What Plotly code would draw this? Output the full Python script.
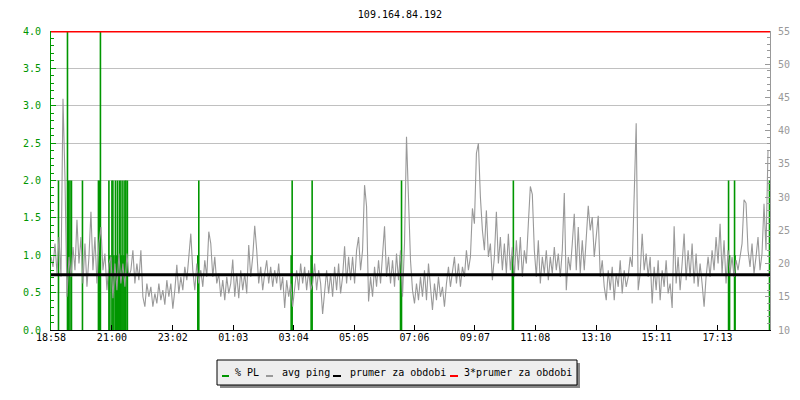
import plotly.graph_objects as go
from datetime import datetime, timedelta

title_text = "109.164.84.192"
start_time = datetime(2024, 1, 1, 18, 58)
span_minutes = 1440
step_minutes = 4

# average ping [ms], one sample every 4 minutes from 18:58
ping_ms = [
    21, 19.5, 23, 18.5, 24, 18, 44.8, 32.8, 15, 21,
    18, 22.5, 19, 26.6, 20, 24, 17, 23, 16.5, 21,
    27.8, 19, 24, 17, 23, 25.5, 19, 21.5, 16, 20,
    21, 14.8, 20, 16, 21.5, 17, 20, 16.5, 21.5, 18,
    19, 22, 17, 20, 17.5, 22, 15, 13.5, 17, 15,
    16.5, 13.5, 15.5, 14, 17, 14.5, 16, 13.8, 17.5, 15,
    17, 13.2, 16, 19.8, 15.5, 18, 16, 19.5, 17.5, 21,
    24.5, 19, 16, 20, 17, 19, 16.5, 20.5, 18, 24.8,
    23, 18, 21, 17, 18.5, 15, 17.5, 14.5, 18, 15.5,
    17, 20.6, 15, 18.5, 14.8, 19, 16, 18.5, 15.5, 22.8,
    18, 21, 25.7, 22, 17, 19.5, 16, 18.5, 20.5, 17,
    19.5, 16.5, 19, 17, 20, 16, 18, 13.3, 17.5, 15,
    17, 13.5, 16.5, 19, 16, 20, 17, 19.5, 16, 19,
    16, 17, 20, 16, 19, 17, 12.4, 16, 19, 15.5,
    18.5, 15, 19.5, 16, 20, 15.5, 18, 22.6, 17, 21,
    17.5, 21, 17, 22, 24, 19, 22, 31.8, 28.6, 14.3,
    18, 15, 19.5, 16.5, 20.5, 17, 22, 25.6, 18, 21,
    17, 20.5, 16.5, 21.5, 17.5, 22, 15, 23, 39.1, 31,
    20.5, 16, 14, 17, 14.5, 18, 15, 19, 14.5, 20,
    16, 13, 17, 14.5, 18, 15, 16.5, 13.5, 17, 19.5,
    16.5, 19, 21, 17, 20, 16.5, 19.5, 18, 22, 19,
    21, 28.3, 26, 36.6, 38.1, 30, 25, 22, 28, 21,
    23, 17.5, 21, 27.8, 20, 24, 19, 23, 18.5, 24.5,
    19, 22.5, 18, 23.5, 19, 24, 18, 22, 20, 26,
    31.6, 30.4, 22, 18, 23.5, 17, 21, 18.5, 22, 17.5,
    21, 18.5, 22.5, 19, 21.5, 18, 22, 30.6, 16, 21,
    19, 23, 27.5, 19, 25.5, 18.5, 23.5, 19, 24, 28.7,
    25, 27, 21, 24, 27.2, 18, 20.5, 16.5, 14.5, 19,
    16, 19.5, 14.5, 18.5, 16.5, 20.5, 15.5, 19, 16.5, 18,
    21, 19.5, 30.6, 41.1, 16, 18.5, 24.5, 19, 21.5, 18,
    21, 14, 19.5, 16, 20.5, 14.5, 19, 16.5, 20.5, 15.5,
    17, 13.3, 25.6, 17, 21, 16, 20, 24.5, 17.5, 22,
    18, 23, 17, 21.5, 16.5, 20, 17, 13.5, 18, 21,
    18, 22, 19, 24, 20, 26, 18.5, 23.5, 17, 22,
    18.5, 21, 18, 20.5, 19, 21, 23, 29.6, 29.1, 22,
    19.5, 23, 18.5, 21, 24, 19, 21.5, 29, 22, 37.1,
]

# packet loss events: minutes after 18:58 and % PL
pl_minute = [15, 33, 35, 38, 41, 63, 95, 97, 99,
             116, 118, 122, 124, 126, 129, 131, 133, 135, 137, 139, 140, 142, 144, 146, 148, 149, 150, 153,
             294, 296, 481, 483, 521, 523, 700, 702, 924, 926, 1357, 1359, 1369, 1370, 1439]
pl_value = [2.0, 4.0, 2.0, 2.0, 2.0, 2.0, 2.0, 2.0, 4.0,
            2.0, 1.0, 2.0, 2.0, 1.0, 2.0, 1.0, 2.0, 1.0, 2.0, 1.0, 2.0, 1.0, 2.0, 1.0, 2.0, 1.0, 2.0, 2.0,
            1.0, 2.0, 1.0, 2.0, 1.0, 2.0, 1.0, 2.0, 1.0, 2.0, 2.0, 1.0, 2.0, 1.0, 2.0]

avg_period_ms = 18.3

tick_labels = ["18:58", "21:00", "23:02", "01:03", "03:04", "05:05",
               "07:06", "09:07", "11:08", "13:10", "15:11", "17:13"]

legend_names = ["% PL", "avg ping", "prumer za obdobi", "3*prumer za obdobi"]

GREEN = "#009600"
GRAY = "#999999"
GRID = "#c0c0c0"
FONT = "DejaVu Sans Mono"

# page geometry (the html body adds an 8px offset)
OFF = 8
W, H = 792, 392
ML, MR, MT, MB = 43, 30, 23, 70
PW, PH = W - ML - MR, H - MT - MB


def px_x(wx):
    return (wx - OFF - ML) / PW


def px_y(wy):
    return (H - MB - (wy - OFF)) / PH


end_time = start_time + timedelta(minutes=span_minutes)
ping_x = [start_time + timedelta(minutes=step_minutes * i) for i in range(len(ping_ms))]

pl_x, pl_y = [], []
for m, v in zip(pl_minute, pl_value):
    t = start_time + timedelta(minutes=m)
    pl_x += [t, t, None]
    pl_y += [0, v, None]

tick_vals = []
for lab in tick_labels:
    h, mi = map(int, lab.split(":"))
    t = start_time.replace(hour=h, minute=mi)
    if t < start_time:
        t += timedelta(days=1)
    tick_vals.append(t)

fig = go.Figure()
fig.add_trace(go.Scatter(x=pl_x, y=pl_y, mode="lines", name=legend_names[0],
                         line=dict(color=GREEN, width=1.6), yaxis="y", hoverinfo="skip"))
fig.add_trace(go.Scatter(x=ping_x, y=ping_ms, mode="lines", name=legend_names[1],
                         line=dict(color=GRAY, width=1.1), yaxis="y2"))
fig.add_trace(go.Scatter(x=[start_time, end_time], y=[avg_period_ms, avg_period_ms], mode="lines",
                         name=legend_names[2], line=dict(color="#000000", width=3), yaxis="y2"))
fig.add_trace(go.Scatter(x=[start_time, end_time], y=[3 * avg_period_ms, 3 * avg_period_ms], mode="lines",
                         name=legend_names[3], line=dict(color="#ff0000", width=1.5), yaxis="y2"))

# legend box drawn as shapes + text annotations (compact, with drop shadow)
legend_colors = [GREEN, GRAY, "#000000", "#ff0000"]
legend_line_x = [(222, 229), (266, 273), (333, 341), (450, 458)]
legend_text_x = [233, 280, 348, 462]
shapes = [
    dict(type="rect", xref="paper", yref="paper", x0=px_x(220), x1=px_x(580), y0=px_y(388), y1=px_y(363),
         fillcolor="#888888", line=dict(width=0), layer="above"),
    dict(type="rect", xref="paper", yref="paper", x0=px_x(217), x1=px_x(577), y0=px_y(385), y1=px_y(360),
         fillcolor="#eeeeee", line=dict(color="black", width=1), layer="above"),
]
annotations = []
for (a, b), tx, col, name in zip(legend_line_x, legend_text_x, legend_colors, legend_names):
    shapes.append(dict(type="line", xref="paper", yref="paper", x0=px_x(a), x1=px_x(b),
                       y0=px_y(376), y1=px_y(376), line=dict(color=col, width=2), layer="above"))
    annotations.append(dict(text=name, xref="paper", yref="paper", x=px_x(tx), y=px_y(372),
                            xanchor="left", yanchor="middle", showarrow=False,
                            font=dict(family=FONT, size=10, color="black")))

fig.update_layout(
    width=W, height=H,
    margin=dict(l=ML, r=MR, t=MT, b=MB, autoexpand=False),
    paper_bgcolor="white", plot_bgcolor="white",
    font=dict(family=FONT, size=10, color="black"),
    title=dict(text=title_text, x=(400 - OFF) / W, xanchor="center", y=1 - (14 - OFF) / H, yanchor="middle",
               font=dict(family=FONT, size=10, color="black")),
    xaxis=dict(type="date", range=[start_time, end_time], tickvals=tick_vals, ticktext=tick_labels,
               ticks="inside", ticklen=5, tickcolor="black", showline=True, linecolor="black",
               linewidth=1, showgrid=False, zeroline=False, tickfont=dict(color="black"),
               ticklabelstandoff=-2),
    yaxis=dict(range=[0, 4], dtick=0.5, tickformat=".1f", ticks="inside", ticklen=5,
               tickcolor=GREEN, showline=True, linecolor=GREEN, linewidth=1,
               gridcolor=GRID, gridwidth=1, zeroline=False, tickfont=dict(color=GREEN),
               minor=dict(dtick=0.1, ticks="inside", ticklen=3, tickcolor=GREEN, showgrid=False),
               ticklabelstandoff=7),
    yaxis2=dict(range=[10, 55], dtick=5, overlaying="y", side="right", ticks="inside", ticklen=5,
                tickcolor=GRAY, showline=True, linecolor=GRAY, linewidth=1, showgrid=False,
                zeroline=False, tickfont=dict(color=GRAY),
                minor=dict(dtick=1, ticks="inside", ticklen=3, tickcolor=GRAY, showgrid=False),
                ticklabelstandoff=5),
    showlegend=False,
    shapes=shapes,
    annotations=annotations,
)

fig.write_html("out.html")
